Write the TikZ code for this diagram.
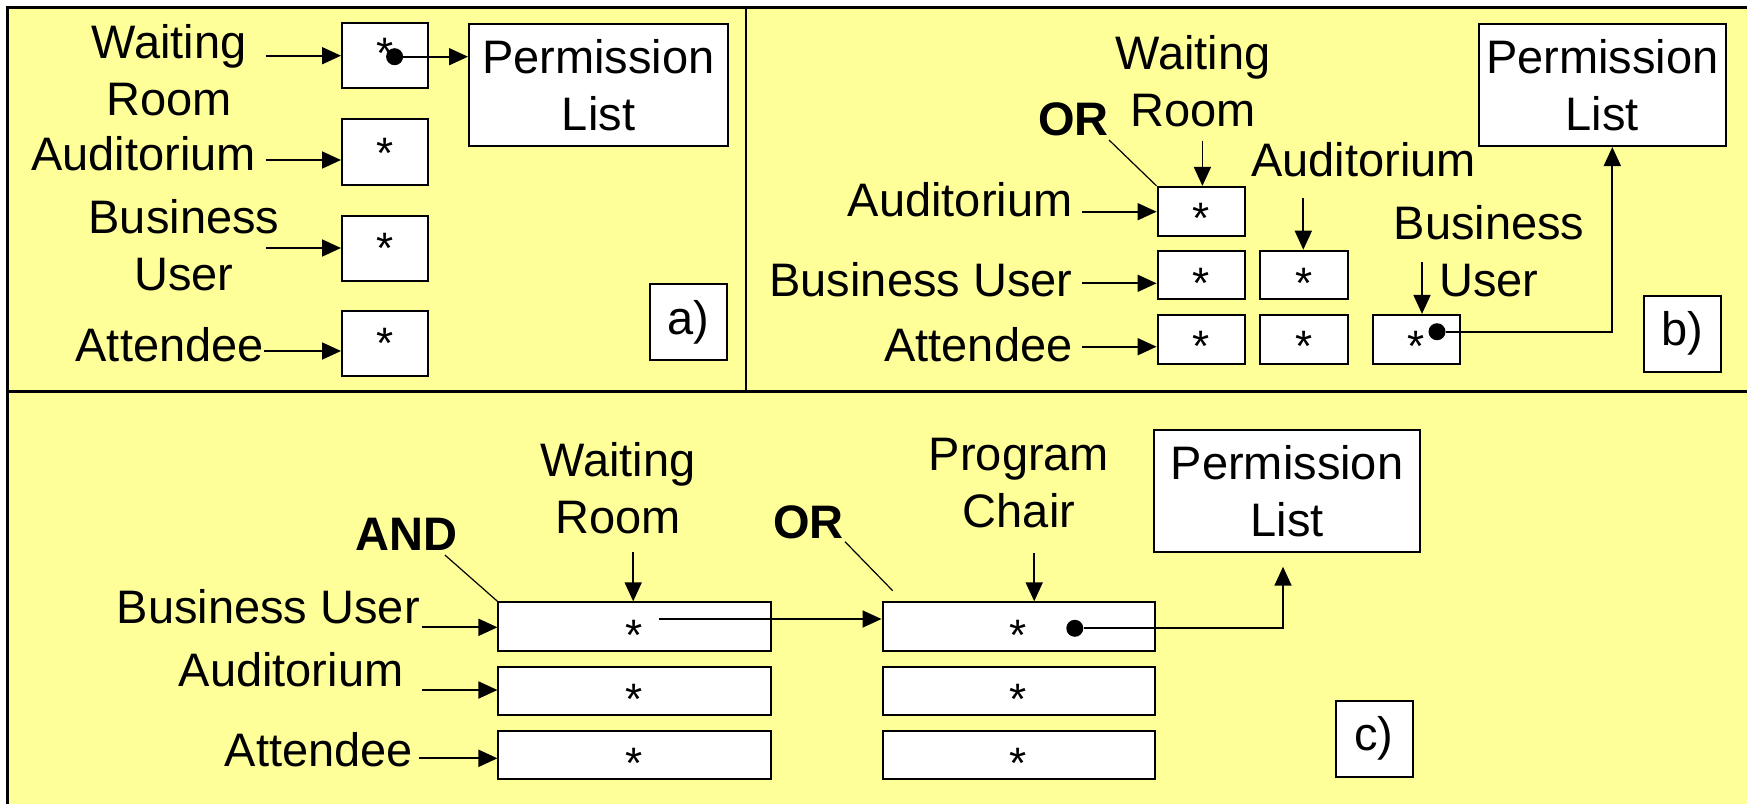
\documentclass[tikz,border=0pt]{standalone}
\usepackage{fontspec}
\setmainfont{Liberation Sans}
\usetikzlibrary{arrows.meta}
\definecolor{bgyellow}{HTML}{FFFF99}
\begin{document}
\begin{tikzpicture}[x=1pt,y=-1pt,
  lbl/.style={inner sep=0pt, font=\fontsize{47}{57}\selectfont},
  lbl2/.style={lbl, align=center},
  bold/.style={inner sep=0pt, font=\fontsize{47}{57}\selectfont\bfseries},
  star/.style={inner sep=0pt, anchor=base, font=\fontsize{44}{50}\selectfont},
  cell/.style={draw, fill=white, line width=2pt, inner sep=0pt},
  acell/.style={cell, minimum width=86pt, minimum height=65.6pt},
  bcell/.style={cell, minimum width=87.3pt, minimum height=48.6pt},
  ccell/.style={cell, minimum width=272.5pt, minimum height=48.4pt},
  perm/.style={cell, align=center, font=\fontsize{47}{57}\selectfont},
  tag/.style={cell, minimum width=77pt, minimum height=76pt, font=\fontsize{47}{57}\selectfont},
  dot/.style={circle, fill=black, inner sep=0pt, minimum size=17pt},
  frame/.style={line width=2.5pt},
  arr/.style={line width=1.8pt, -{Triangle[length=19pt,width=17pt]}},
  thinline/.style={line width=1.2pt}
]
\useasboundingbox (0,0) rectangle (1747,804);
% background and frame
\fill[bgyellow] (7.5,7.3) rectangle (1747,804);
\draw[frame] (7.5,804) -- (7.5,7.3) -- (1747,7.3);
\draw[frame] (7.5,391.7) -- (1747,391.7);
\draw[frame] (746,7.3) -- (746,391.7);

% ---------------- panel a ----------------
\node[acell] (a1) at (385,55.5) {};
\node[acell] (a2) at (385,152) {};
\node[acell] (a3) at (385,248.5) {};
\node[acell] (a4) at (385,343.5) {};
\node[star] (sa1) at (385,68) {*};
\node[star] (sa2) at (385,168) {*};
\node[star] (sa3) at (385,263.3) {*};
\node[star] (sa4) at (385,358.3) {*};
\node[perm, minimum width=259pt, minimum height=122pt] (pa) at (598.5,85) {Permission\\List};
\node[lbl2] (wa) at (169,69.7) {Waiting\\Room};
\node[lbl, anchor=base east] (aua) at (256,170) {Auditorium};
\node[lbl2] (bua) at (184,244.7) {Business\\User};
\node[lbl, anchor=base east] (ata) at (264,361) {Attendee};
\node[tag] (ta) at (688.5,322) {a)};
\node[dot] (da) at (394.6,56.7) {};
\coordinate (wa-s) at (265.5,55.7);
\coordinate (aua-s) at (265.5,160);
\coordinate (bua-s) at (265.5,248);
\coordinate (ata-s) at (264,351);
\draw[arr] (wa-s) -- (wa-s -| a1.west);
\draw[arr] (aua-s) -- (aua-s -| a2.west);
\draw[arr] (bua-s) -- (bua-s -| a3.west);
\draw[arr] (ata-s) -- (ata-s -| a4.west);
\draw[arr] (da) -- (da -| pa.west);

% ---------------- panel b ----------------
\node[bcell] (b11) at (1201.2,211.2) {};
\node[bcell] (b21) at (1201.2,275) {};
\node[bcell] (b22) at (1304,275) {};
\node[bcell] (b31) at (1201.2,339.2) {};
\node[bcell] (b32) at (1304,339.2) {};
\node[bcell] (b33) at (1416.3,339.2) {};
\node[star] (sb11) at (1201,233.3) {*};
\node[star] (sb21) at (1201,298.3) {*};
\node[star] (sb22) at (1304,298.3) {*};
\node[star] (sb31) at (1201,361.7) {*};
\node[star] (sb32) at (1304,361.7) {*};
\node[star] (sb33) at (1415.7,361.7) {*};
\node[lbl2] (wb) at (1193,81.4) {Waiting\\Room};
\node[bold, anchor=base east] (orb) at (1109,135) {OR};
\node[lbl, anchor=base east] (aub) at (1072.7,216.7) {Auditorium};
\node[lbl, anchor=base east] (bub) at (1072.7,296.7) {Business User};
\node[lbl, anchor=base east] (atb) at (1072.7,361.7) {Attendee};
\node[lbl, anchor=base] (aub2) at (1363.6,176.7) {Auditorium};
\node[lbl2] (bub2) at (1489,251.4) {Business\\User};
\node[perm, minimum width=247.3pt, minimum height=122pt] (pb) at (1602.3,85) {Permission\\List};
\node[tag] (tb) at (1682.5,333.7) {b)};
\node[dot] (db) at (1437,331.7) {};
\coordinate (orb-e) at (1109,140);
\coordinate (wb-s) at (1202.4,140.7);
\coordinate (aub-s) at (1082,211.7);
\coordinate (aub2-s) at (1303.3,198.3);
\coordinate (bub-s) at (1082,283.3);
\coordinate (atb-s) at (1082,346.7);
\coordinate (bub2-s) at (1422,261.7);
\draw[thinline] (orb-e) -- (b11.north west);
\draw[arr] (wb-s) -- (wb-s |- b11.north);
\draw[arr] (aub-s) -- (aub-s -| b11.west);
\draw[arr] (aub2-s) -- (aub2-s |- b22.north);
\draw[arr] (bub-s) -- (bub-s -| b21.west);
\draw[arr] (atb-s) -- (atb-s -| b31.west);
\draw[arr] (bub2-s) -- (bub2-s |- b33.north);
\draw[arr] (db) -| ([xshift=10pt]pb.south);

% ---------------- panel c ----------------
\node[ccell] (c11) at (634.7,626.5) {};
\node[ccell] (c12) at (634.7,690.9) {};
\node[ccell] (c13) at (634.7,754.9) {};
\node[ccell] (c21) at (1018.75,626.5) {};
\node[ccell] (c22) at (1018.75,690.9) {};
\node[ccell] (c23) at (1018.75,754.9) {};
\node[star] (sc11) at (634.3,650) {*};
\node[star] (sc12) at (634.3,714.3) {*};
\node[star] (sc13) at (634.3,778.3) {*};
\node[star] (sc21) at (1017.6,650) {*};
\node[star] (sc22) at (1017.6,714.3) {*};
\node[star] (sc23) at (1017.6,778.3) {*};
\node[lbl2] (wc) at (618,488) {Waiting\\Room};
\node[bold, anchor=base east] (andc) at (458,550) {AND};
\node[bold, anchor=base east] (orc) at (843.9,538.3) {OR};
\node[lbl2] (pcc) at (1019,483) {Program\\Chair};
\node[perm, minimum width=265.5pt, minimum height=122.3pt] (pc) at (1287,491.2) {Permission\\List};
\node[lbl, anchor=base east] (buc) at (420,623.3) {Business User};
\node[lbl, anchor=base east] (auc) at (403.6,686.7) {Auditorium};
\node[lbl, anchor=base east] (atc) at (413.3,766.7) {Attendee};
\node[tag] (tc) at (1374,738.7) {c)};
\node[dot] (dc) at (1074.8,628.3) {};
\coordinate (andc-e) at (444.9,555);
\coordinate (orc-e) at (845,541.7);
\coordinate (orc-t) at (892.7,590.7);
\coordinate (wc-s) at (633.2,551.7);
\coordinate (pcc-s) at (1034.2,553.3);
\coordinate (sc) at (659,619);
\coordinate (tipc) at (1283,566.7);
\coordinate (buc-s) at (422,627.3);
\coordinate (auc-s) at (422,690);
\coordinate (atc-s) at (419,758.3);
\draw[thinline] (andc-e) -- (c11.north west);
\draw[thinline] (orc-e) -- (orc-t);
\draw[arr] (wc-s) -- (wc-s |- c11.north);
\draw[arr] (pcc-s) -- (pcc-s |- c21.north);
\draw[arr] (sc) -- (sc -| c21.west);
\draw[arr] (dc) -| (tipc);
\draw[arr] (buc-s) -- (buc-s -| c11.west);
\draw[arr] (auc-s) -- (auc-s -| c12.west);
\draw[arr] (atc-s) -- (atc-s -| c13.west);
\end{tikzpicture}
\end{document}
